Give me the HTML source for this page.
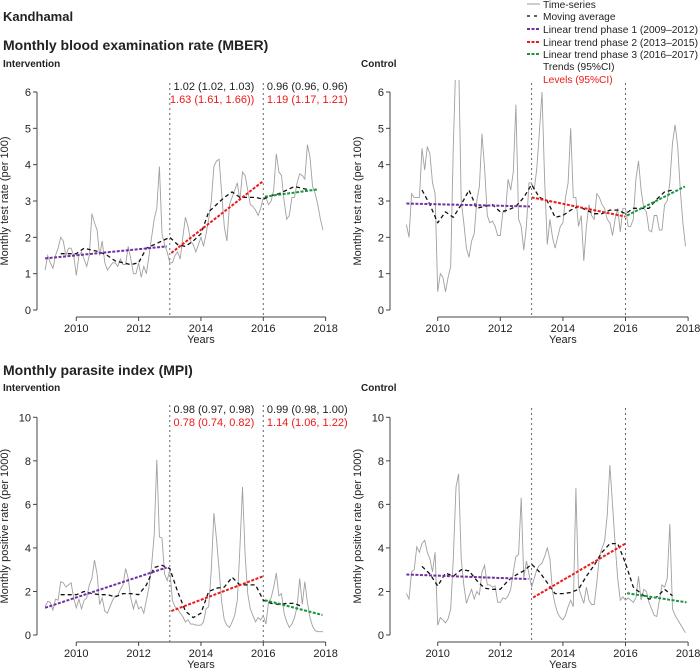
<!DOCTYPE html>
<html><head><meta charset="utf-8"><style>
html,body{margin:0;padding:0;background:#fff;}
svg{display:block;font-family:"Liberation Sans",Arial,sans-serif;}
</style></head><body>
<svg id="chart" width="700" height="669" viewBox="0 0 700 669" xmlns="http://www.w3.org/2000/svg">
<text x="3" y="21" font-size="13" font-weight="bold" fill="#222">Kandhamal</text>
<text x="3" y="50" font-size="14" font-weight="bold" fill="#222">Monthly blood examination rate (MBER)</text>
<text x="3" y="67" font-size="10" font-weight="bold" fill="#222">Intervention</text>
<text x="361" y="67" font-size="10" font-weight="bold" fill="#222">Control</text>
<text x="3" y="375" font-size="14" font-weight="bold" fill="#222">Monthly parasite index (MPI)</text>
<text x="3" y="391" font-size="10" font-weight="bold" fill="#222">Intervention</text>
<text x="361" y="391" font-size="10" font-weight="bold" fill="#222">Control</text>
<g font-size="10.2" fill="#222">
  <line x1="527" y1="4" x2="540" y2="4" stroke="#999" stroke-width="1"/>
  <text x="543" y="8">Time-series</text>
  <line x1="527" y1="16" x2="540" y2="16" stroke="#000" stroke-width="1.3" stroke-dasharray="3,4"/>
  <text x="543" y="20">Moving average</text>
  <line x1="527" y1="29" x2="540" y2="29" stroke="#7030a0" stroke-width="2" stroke-dasharray="3,1.5"/>
  <text x="543" y="33" textLength="155" lengthAdjust="spacingAndGlyphs">Linear trend phase 1 (2009–2012)</text>
  <line x1="527" y1="42" x2="540" y2="42" stroke="#f01818" stroke-width="2" stroke-dasharray="3,1.5"/>
  <text x="543" y="46" textLength="155" lengthAdjust="spacingAndGlyphs">Linear trend phase 2 (2013–2015)</text>
  <line x1="527" y1="54" x2="540" y2="54" stroke="#189640" stroke-width="2" stroke-dasharray="3,1.5"/>
  <text x="543" y="58" textLength="155" lengthAdjust="spacingAndGlyphs">Linear trend phase 3 (2016–2017)</text>
  <text x="543" y="70">Trends (95%CI)</text>
  <text x="543" y="83" fill="#f01818">Levels (95%CI)</text>
</g>
</svg>
<script>
// ---- data ----
const mberIntSeries = [1.1,1.5,1.3,1.15,1.5,1.7,2.0,1.9,1.5,1.7,1.7,1.5,
0.95,1.5,1.6,1.4,1.2,1.5,2.65,2.4,2.2,1.5,1.9,1.3,
1.1,1.2,1.3,1.3,1.2,1.4,1.25,1.25,1.75,1.4,1.0,1.0,
1.3,0.9,1.2,1.0,1.5,2.0,2.5,2.8,3.95,2.1,1.8,1.6,
1.3,1.3,1.5,1.6,1.4,2.0,2.55,2.3,1.9,1.8,1.6,1.8,
2.0,1.75,2.1,2.5,3.0,3.95,4.1,4.15,3.2,2.3,1.9,2.9,
3.1,3.3,3.5,3.0,3.8,3.7,3.3,2.9,2.85,2.75,2.6,2.8,
3.1,3.1,2.9,3.0,3.3,4.3,3.8,3.7,3.0,2.5,2.6,3.1,
3.1,3.5,3.75,3.7,3.6,4.55,4.2,3.4,3.2,2.9,2.5,2.2];
const mberCtlSeries = [2.35,2.0,3.2,3.1,3.1,3.1,4.45,3.85,4.5,4.3,3.5,3.2,
0.5,1.0,0.9,0.5,0.9,1.2,4.5,7.0,7.0,3.0,2.4,1.7,
1.45,1.9,2.1,3.0,3.4,4.85,3.9,2.6,2.4,2.45,2.3,2.05,
2.05,2.7,2.7,3.6,3.3,3.8,5.65,2.5,2.3,1.65,2.3,3.5,
3.5,3.3,3.9,4.9,6.0,3.6,1.8,2.5,2.0,1.7,2.0,2.3,
2.4,3.1,3.5,5.0,3.1,3.1,2.3,2.6,1.35,2.3,2.9,2.6,
2.5,3.2,3.1,2.9,2.8,2.5,2.4,2.05,2.5,2.8,2.15,2.8,
2.8,2.3,2.3,2.5,3.6,4.1,3.3,2.8,2.7,2.2,2.15,2.6,
2.6,2.2,2.2,2.9,3.0,3.5,4.6,5.1,4.5,3.3,2.4,1.75];
const mpiIntSeries = [1.3,1.55,1.5,1.15,1.65,1.6,2.45,2.4,2.2,2.3,2.4,1.7,
1.25,1.65,1.2,1.6,1.7,2.3,2.6,3.45,2.8,1.4,1.7,1.1,
1.0,1.3,1.6,1.8,1.8,2.1,2.3,3.05,2.6,1.7,1.2,1.6,
1.2,1.3,1.0,1.6,2.2,3.2,4.6,8.05,4.5,4.45,2.8,2.5,
3.0,1.6,1.3,1.2,1.0,0.85,0.6,0.7,0.5,0.5,0.45,0.45,
0.45,0.6,1.2,1.3,3.0,5.6,4.4,3.0,1.5,0.7,0.45,0.35,
0.6,0.9,1.6,4.0,6.8,3.7,1.9,1.2,0.9,0.6,0.8,0.7,
0.9,0.5,1.5,1.7,2.2,2.85,1.8,1.9,1.0,0.6,0.35,0.5,
0.8,1.3,2.6,1.4,2.45,1.5,0.8,0.4,0.2,0.15,0.15,0.15];
const mpiCtlSeries = [1.9,1.65,2.9,3.0,4.05,3.8,4.2,4.35,3.8,3.5,2.9,3.8,
0.45,0.8,0.7,0.55,0.75,1.2,3.5,6.8,7.4,3.5,2.3,1.45,
1.8,2.1,1.65,2.0,1.85,2.9,3.2,2.3,2.3,2.2,2.25,1.5,
1.5,1.7,1.65,1.8,2.1,2.9,3.6,3.7,6.3,2.6,3.4,2.8,
2.2,2.6,3.0,3.2,3.3,3.6,4.0,3.5,2.0,1.4,1.0,0.8,
0.7,0.9,1.3,1.6,1.3,6.75,2.2,1.8,1.45,2.2,1.6,1.4,
1.4,2.4,3.6,4.0,4.3,5.5,7.8,6.0,4.2,2.6,1.6,1.75,
1.6,1.7,1.6,1.5,1.7,2.7,1.6,2.1,2.0,1.5,1.2,0.9,
0.85,1.6,2.3,2.2,2.6,5.1,1.2,0.9,0.7,0.5,0.3,0.1];
// moving averages, quarterly from 2009.5
const maStartYear = 2009.5;
const mberIntMA = [1.55,1.55,1.55,1.7,1.65,1.6,1.5,1.35,1.3,1.25,1.3,1.7,1.8,1.9,2.0,1.8,1.75,1.9,2.1,2.7,2.9,3.1,3.25,3.1,3.1,3.1,3.05,3.15,3.2,3.3,3.4,3.35,3.3];
const mberCtlMA = [3.3,2.9,2.4,2.7,2.55,2.9,3.3,2.8,2.85,2.9,2.7,2.75,2.85,3.1,3.45,3.1,3.0,2.55,2.6,2.75,2.85,2.75,2.65,2.65,2.75,2.75,2.65,2.8,2.8,2.8,3.05,3.25,3.3];
const mpiIntMA = [1.85,1.85,1.85,2.0,1.9,1.85,1.85,1.75,1.9,1.9,1.85,2.3,3.1,3.2,3.05,2.0,1.1,0.8,1.0,2.0,2.15,2.2,2.65,2.3,2.3,2.3,1.6,1.45,1.4,1.45,1.45,1.3];
const mpiCtlMA = [3.15,2.8,2.25,2.85,2.7,3.0,2.95,2.5,2.15,2.1,2.1,2.5,2.75,2.95,3.25,2.9,2.4,1.9,1.9,1.95,2.1,2.7,3.2,3.8,4.2,4.2,3.3,2.2,1.9,1.65,1.75,2.1,1.8];
// trend segments: [startYear, startValue, endYear, endValue]
const mberIntTrends = [[2009.0,1.42,2012.9,1.75],[2013.05,1.57,2016.0,3.55],[2016.05,3.12,2017.75,3.32]];
const mberCtlTrends = [[2009.0,2.93,2012.95,2.85],[2013.0,3.1,2016.0,2.57],[2016.05,2.6,2017.9,3.4]];
const mpiIntTrends = [[2009.0,1.25,2012.9,3.1],[2013.05,1.1,2016.0,2.7],[2016.05,1.6,2017.9,0.92]];
const mpiCtlTrends = [[2009.0,2.78,2012.9,2.57],[2013.05,1.72,2016.0,4.2],[2016.05,1.92,2017.95,1.5]];
const mberTicks = [0,1,2,3,4,5,6];
const mpiTicks = [0,2,4,6,8,10];
const yearTicks = [2010,2012,2014,2016,2018];
const interventionYears = [2013,2016];
const mberIntAnnot = [["1.02 (1.02, 1.03)","1.63 (1.61, 1.66))"],["0.96 (0.96, 0.96)","1.19 (1.17, 1.21)"]];
const mpiIntAnnot = [["0.98 (0.97, 0.98)","0.78 (0.74, 0.82)"],["0.99 (0.98, 1.00)","1.14 (1.06, 1.22)"]];

const NS = "http://www.w3.org/2000/svg";
const svg = document.getElementById('chart');
const phaseColors = ['#7030a0','#f01818','#189640'];
function mk(tag, attrs, parent){const e=document.createElementNS(NS,tag);for(const k in attrs)e.setAttribute(k,attrs[k]);(parent||svg).appendChild(e);return e;}

function drawPanel(id, cfg, series, ma, trends, ticks, yTitle, annot){
  const g = mk('g',{});
  
  
  const xs = t => cfg.x2009 + (t-2009)*cfg.ppy;
  const ys = v => cfg.y0 - v*cfg.ppv;
  const clipId = id+'-clip';
  const defs = mk('defs',{},g);
  const cp = mk('clipPath',{id:clipId},defs);
  mk('rect',{x:cfg.x2009-5,y:cfg.clipTop,width:300,height:cfg.y0-cfg.clipTop+5},cp);
  const yAx = mk('g',{stroke:'#444','stroke-width':1},g);
  
  
  mk('line',{x1:cfg.ax,y1:ys(ticks[0]),x2:cfg.ax,y2:ys(ticks[ticks.length-1])},yAx);
  ticks.forEach(v=>{
    mk('line',{x1:cfg.ax-4,y1:ys(v),x2:cfg.ax,y2:ys(v)},yAx);
    const t = mk('text',{x:cfg.ax-6,y:ys(v)+4,'font-size':11,'text-anchor':'end',fill:'#222',stroke:'none'},g);
    t.textContent = v;
    
    
  });
  const yt = mk('text',{x:0,y:0,'font-size':11,'text-anchor':'middle',fill:'#222',transform:`translate(${cfg.ax-29},${(ys(ticks[0])+ys(ticks[ticks.length-1]))/2}) rotate(-90)`},g);
  yt.textContent = yTitle;
  
  
  const xAx = mk('g',{stroke:'#444','stroke-width':1},g);
  
  
  mk('line',{x1:xs(yearTicks[0]),y1:cfg.xAxY,x2:xs(yearTicks[yearTicks.length-1]),y2:cfg.xAxY},xAx);
  yearTicks.forEach(yr=>{
    mk('line',{x1:xs(yr),y1:cfg.xAxY,x2:xs(yr),y2:cfg.xAxY+4},xAx);
    const t = mk('text',{x:xs(yr),y:cfg.xAxY+15,'font-size':11,'text-anchor':'middle',fill:'#222',stroke:'none'},g);
    t.textContent = yr;
    
    
  });
  const xt = mk('text',{x:xs(2014),y:cfg.xAxY+26,'font-size':11,'text-anchor':'middle',fill:'#222'},g);
  xt.textContent = 'Years';
  
  
  interventionYears.forEach(yr=>{
    const l = mk('line',{x1:xs(yr),y1:cfg.vTop,x2:xs(yr),y2:cfg.xAxY,stroke:'#666','stroke-width':1,'stroke-dasharray':'2,3'},g);
    
    
  });
  const pts = series.map((v,i)=>xs(2009+i/12).toFixed(1)+','+ys(v).toFixed(1)).join(' ');
  const ts = mk('polyline',{points:pts,fill:'none',stroke:'#a0a0a0','stroke-width':0.9,'clip-path':`url(#${clipId})`},g);
  
  
  const mpts = ma.map((v,i)=>xs(maStartYear+i*0.25).toFixed(1)+','+ys(v).toFixed(1)).join(' ');
  const mal = mk('polyline',{points:mpts,fill:'none',stroke:'#111','stroke-width':1.3,'stroke-dasharray':'4,3','stroke-linejoin':'round'},g);
  
  
  trends.forEach((tr,k)=>{
    const l = mk('line',{x1:xs(tr[0]),y1:ys(tr[1]),x2:xs(tr[2]),y2:ys(tr[3]),stroke:phaseColors[k],'stroke-width':2,'stroke-dasharray':'3,1.5'},g);
    
    
  });
  if(annot){
    annot.forEach((a,k)=>{
      const xr = k===0 ? xs(2016)-9 : xs(2018)+22;
      const t1 = mk('text',{x:xr,y:cfg.annY,'font-size':11,'text-anchor':'end',fill:'#222'},g);
      t1.textContent = a[0];
      
      
      const t2 = mk('text',{x:xr,y:cfg.annY+13,'font-size':11,'text-anchor':'end',fill:'#f01818'},g);
      t2.textContent = a[1];
      
      
    });
  }
}
const L = {x2009:45.1, ppy:31.17, ax:37};
const R = {x2009:406.4, ppy:31.3, ax:390};
drawPanel('mber-intervention', {...L, y0:310, ppv:218/6, xAxY:317, vTop:83, clipTop:80, annY:90}, mberIntSeries, mberIntMA, mberIntTrends, mberTicks, 'Monthly test rate (per 100)', mberIntAnnot);
drawPanel('mber-control', {...R, y0:310, ppv:218/6, xAxY:317, vTop:83, clipTop:80}, mberCtlSeries, mberCtlMA, mberCtlTrends, mberTicks, 'Monthly test rate (per 100)', null);
drawPanel('mpi-intervention', {...L, y0:635, ppv:21.77, xAxY:642, vTop:405, clipTop:400, annY:413}, mpiIntSeries, mpiIntMA, mpiIntTrends, mpiTicks, 'Monthly positive rate (per 1000)', mpiIntAnnot);
drawPanel('mpi-control', {...R, y0:635, ppv:21.77, xAxY:642, vTop:408, clipTop:400}, mpiCtlSeries, mpiCtlMA, mpiCtlTrends, mpiTicks, 'Monthly positive rate (per 1000)', null);
</script>
</body></html>
